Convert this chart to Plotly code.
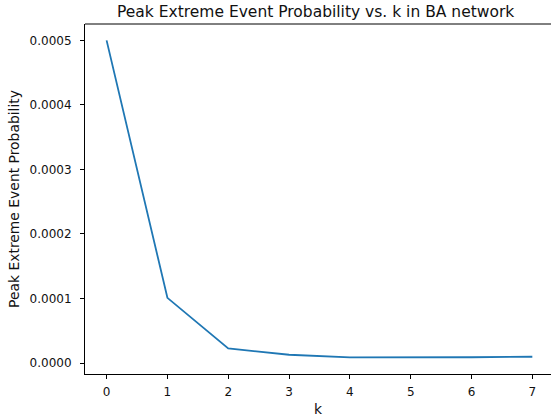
import plotly.graph_objects as go

k_values = [0, 1, 2, 3, 4, 5, 6, 7]
peak_prob = [0.0005, 0.000101, 0.0000225, 0.0000128, 0.0000086, 0.0000085, 0.0000089, 0.0000097]
y_ticks = [0.0, 0.0001, 0.0002, 0.0003, 0.0004, 0.0005]
y_tick_text = ["0.0000", "0.0001", "0.0002", "0.0003", "0.0004", "0.0005"]
title_text = "Peak Extreme Event Probability vs. k in BA network"

FONT = "DejaVu Sans"
TXT = "#111111"

fig = go.Figure()
fig.add_trace(go.Scatter(x=k_values, y=peak_prob, mode="lines",
                         line=dict(color="#1f77b4", width=1.8)))

fig.update_layout(
    template="none",
    width=551, height=417,
    margin=dict(l=85, r=0, t=24, b=43),
    paper_bgcolor="white", plot_bgcolor="white",
    showlegend=False,
    font=dict(family=FONT, size=12, color=TXT),
    xaxis=dict(range=[-0.355, 7.307], tickvals=k_values,
               showline=True, linecolor="black", linewidth=1,
               ticks="outside", ticklen=4, tickwidth=1, tickcolor="black",
               showgrid=False, zeroline=False,
               tickfont=dict(size=12, color=TXT),
               title=dict(text="k", standoff=5, font=dict(size=13.9, color=TXT)),
               ticklabelstandoff=3),
    yaxis=dict(range=[-0.00001705, 0.0005254], tickvals=y_ticks, ticktext=y_tick_text,
               showline=True, linecolor="black", linewidth=1,
               ticks="outside", ticklen=4, tickwidth=1, tickcolor="black",
               showgrid=False, zeroline=False,
               tickfont=dict(size=12, color=TXT),
               title=dict(text="Peak Extreme Event Probability", standoff=6, font=dict(size=13.9, color=TXT)),
               ticklabelstandoff=6),
    shapes=[dict(type="line", xref="paper", yref="paper", x0=0, x1=1, y0=1, y1=1,
                 line=dict(color="black", width=1))],
    annotations=[dict(text=title_text, xref="paper", yref="paper", x=0.495, y=1,
                      xanchor="center", yanchor="bottom", yshift=1, showarrow=False,
                      font=dict(family=FONT, size=15.5, color=TXT))],
)

fig.write_html("out.html")
